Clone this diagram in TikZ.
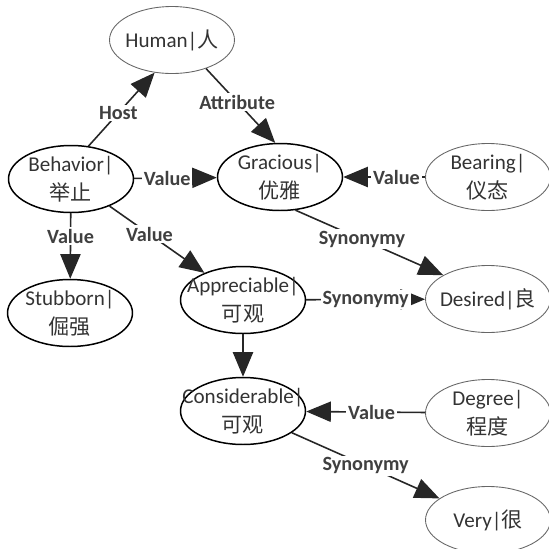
\documentclass[tikz,border=0pt]{standalone}
\usepackage{fontspec}
\setmainfont{Carlito}
\newfontfamily\cjk{Noto Sans CJK SC}
\usetikzlibrary{arrows.meta,shapes.geometric}

\begin{document}
\begin{tikzpicture}[x=0.02cm, y=-0.02cm, >={Triangle[length=14pt,width=11.5pt]},
  concept/.style={ellipse, draw=black, line width=0.85pt, minimum width=2.5cm, minimum height=1.34cm,
    inner sep=-12pt, align=center, font=\fontsize{12}{16.5}\selectfont, text=black!80},
  faint/.style={concept, draw=black!60, line width=0.5pt},
  rel/.style={->, line width=0.9pt, black!85},
  lbl/.style={fill=white, inner sep=1pt, font=\fontsize{11.5}{12}\selectfont\bfseries, text=black!75}]
\useasboundingbox (0,0) rectangle (549,549);
\foreach \nm/\st/\x/\y/\txt in {
    human/faint/172/40/{Human|{\cjk 人}},
    behavior/concept/71/179/{Behavior|\\{\cjk 举止}},
    gracious/concept/280/177/{Gracious|\\{\cjk 优雅}},
    bearing/faint/488/177/{Bearing|\\{\cjk 仪态}},
    stubborn/concept/70/313/{Stubborn|\\{\cjk 倔强}},
    appreciable/concept/243/300/{Appreciable|\\{\cjk 可观}},
    desired/faint/488/299/{Desired|{\cjk 良}},
    considerable/concept/243/411/{Considerable|\\{\cjk 可观}},
    degree/faint/488/413/{Degree|\\{\cjk 程度}},
    very/faint/488/520/{Very|{\cjk 很}}}{
  \node[\st] (\nm) at (\x,\y) {\txt};
}
\draw[rel] (behavior.62) -- node[lbl, pos=0.45]{Host} (human.-118);
\draw[rel] (human.-40) -- node[lbl, pos=0.45]{Attribute} (gracious.98);
\draw[rel] (behavior) -- node[lbl, pos=0.4]{Value} (gracious);
\draw[rel] (bearing) -- node[lbl, pos=0.35]{Value} (gracious);
\draw[rel] (gracious.-65) -- node[lbl, pos=0.45]{Synonymy} (desired.152);
\draw[rel] (behavior) -- node[lbl, pos=0.35]{Value} (stubborn);
\draw[rel] (behavior) -- node[lbl, pos=0.42]{Value} (appreciable);
\draw[rel] (appreciable) -- node[lbl]{Synonymy} (desired);
\draw[rel] (appreciable) -- (considerable);
\draw[rel] (degree) -- node[lbl, pos=0.45]{Value} (considerable);
\draw[rel] (considerable) -- node[lbl]{Synonymy} (very);
\end{tikzpicture}
\end{document}
